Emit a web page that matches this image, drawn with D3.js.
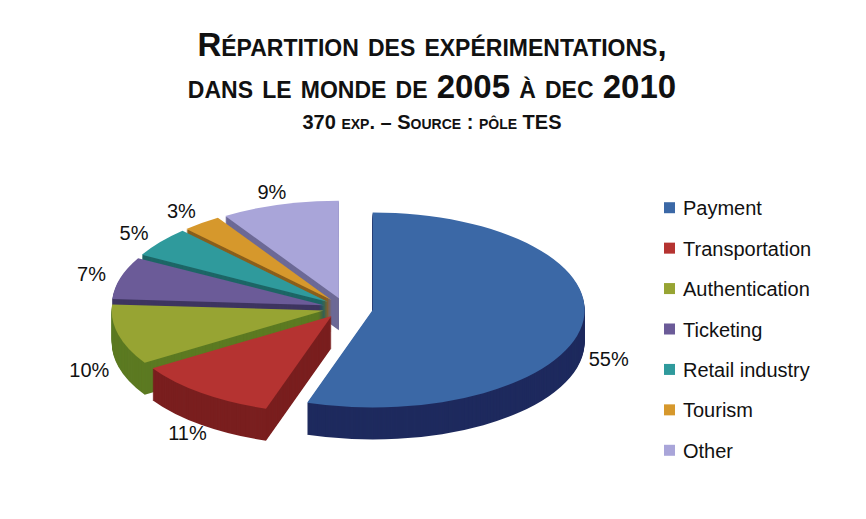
<!DOCTYPE html>
<html><head><meta charset="utf-8">
<script src="https://cdn.jsdelivr.net/npm/d3@7"></script>
<style>body{margin:0;background:#fff}</style>
</head><body>
<svg id="chart" width="866" height="519"></svg>
<script>
var categories = ["Payment","Transportation","Authentication","Ticketing","Retail industry","Tourism","Other"];
var values = [55,11,10,7,5,3,9];
var topColors = ["#3b68a6","#b53331","#97a433","#6b5b98","#2f9a9c","#d6982c","#a9a5d9"];
var sideColors = ["#1e2a5e","#7a1f1f","#5c7a22","#3e3560","#1d6666","#8a5f1c","#6d6a96"];

var svg = d3.select("#chart"),
    width = +svg.attr("width"),
    height = +svg.attr("height");

// title
var title = svg.append("g").attr("font-family","Liberation Sans, Arial").attr("font-weight","bold")
    .attr("text-anchor","middle").attr("fill","#111");
title.append("text").attr("x",432).attr("y",56).attr("font-size",33)
    .style("font-variant","small-caps").text("Répartition des expérimentations,");
title.append("text").attr("x",432).attr("y",98).attr("font-size",33)
    .style("font-variant","small-caps").text("dans le monde de  2005 à dec 2010");
title.append("text").attr("x",432).attr("y",129).attr("font-size",20)
    .style("font-variant","small-caps").text("370 exp. – Source : pôle TES");

var cx = 345, cy = 308, r = 212, sy = 0.46, depth = 32;
var pie = d3.pie().sort(null).value(function(d){return d;});
var arcs = pie(values);
var arc = d3.arc().innerRadius(0).outerRadius(r);
var explode = [28,22,22,22,22,22,22];

function off(d,i){
  var a = (d.startAngle + d.endAngle)/2;
  return [Math.sin(a)*explode[i], -Math.cos(a)*explode[i]];
}

var pieG = svg.append("g");
// side layers
for (var k = depth; k > 0; k--) {
  arcs.forEach(function(d,i){
    var o = off(d,i);
    pieG.append("path")
      .attr("transform","translate("+cx+","+(cy+k)+") scale(1,"+sy+") translate("+o[0]+","+o[1]+")")
      .attr("d", arc(d))
      .attr("fill", sideColors[i]);
  });
}
arcs.forEach(function(d,i){
  var o = off(d,i);
  pieG.append("path")
    .attr("transform","translate("+cx+","+cy+") scale(1,"+sy+") translate("+o[0]+","+o[1]+")")
    .attr("d", arc(d))
    .attr("fill", topColors[i]);
});

// labels
var labelR = [r+55, r+45, r+52, r+52, r+55, r+55, r+50];
arcs.forEach(function(d,i){
  var a = (d.startAngle + d.endAngle)/2;
  var x = cx + Math.sin(a)*labelR[i];
  var y = cy - Math.cos(a)*labelR[i]*sy + (Math.cos(a) < 0 ? depth : 0) + 7;
  svg.append("text").attr("x",x).attr("y",y)
    .attr("text-anchor","middle")
    .attr("font-family","Liberation Sans, Arial").attr("font-size",20).attr("fill","#111")
    .text(values[i]+"%");
});

// legend
var leg = svg.append("g").attr("font-family","Liberation Sans, Arial").attr("font-size",20).attr("fill","#111");
var ly = d3.scaleBand().domain(categories).range([188,471]);
categories.forEach(function(c,i){
  var y = ly(c) + ly.bandwidth()/2;
  leg.append("rect").attr("x",664).attr("y",y-6).attr("width",11).attr("height",11).attr("fill",topColors[i]);
  leg.append("text").attr("x",683).attr("y",y+7).text(c);
});
</script>
</body></html>
